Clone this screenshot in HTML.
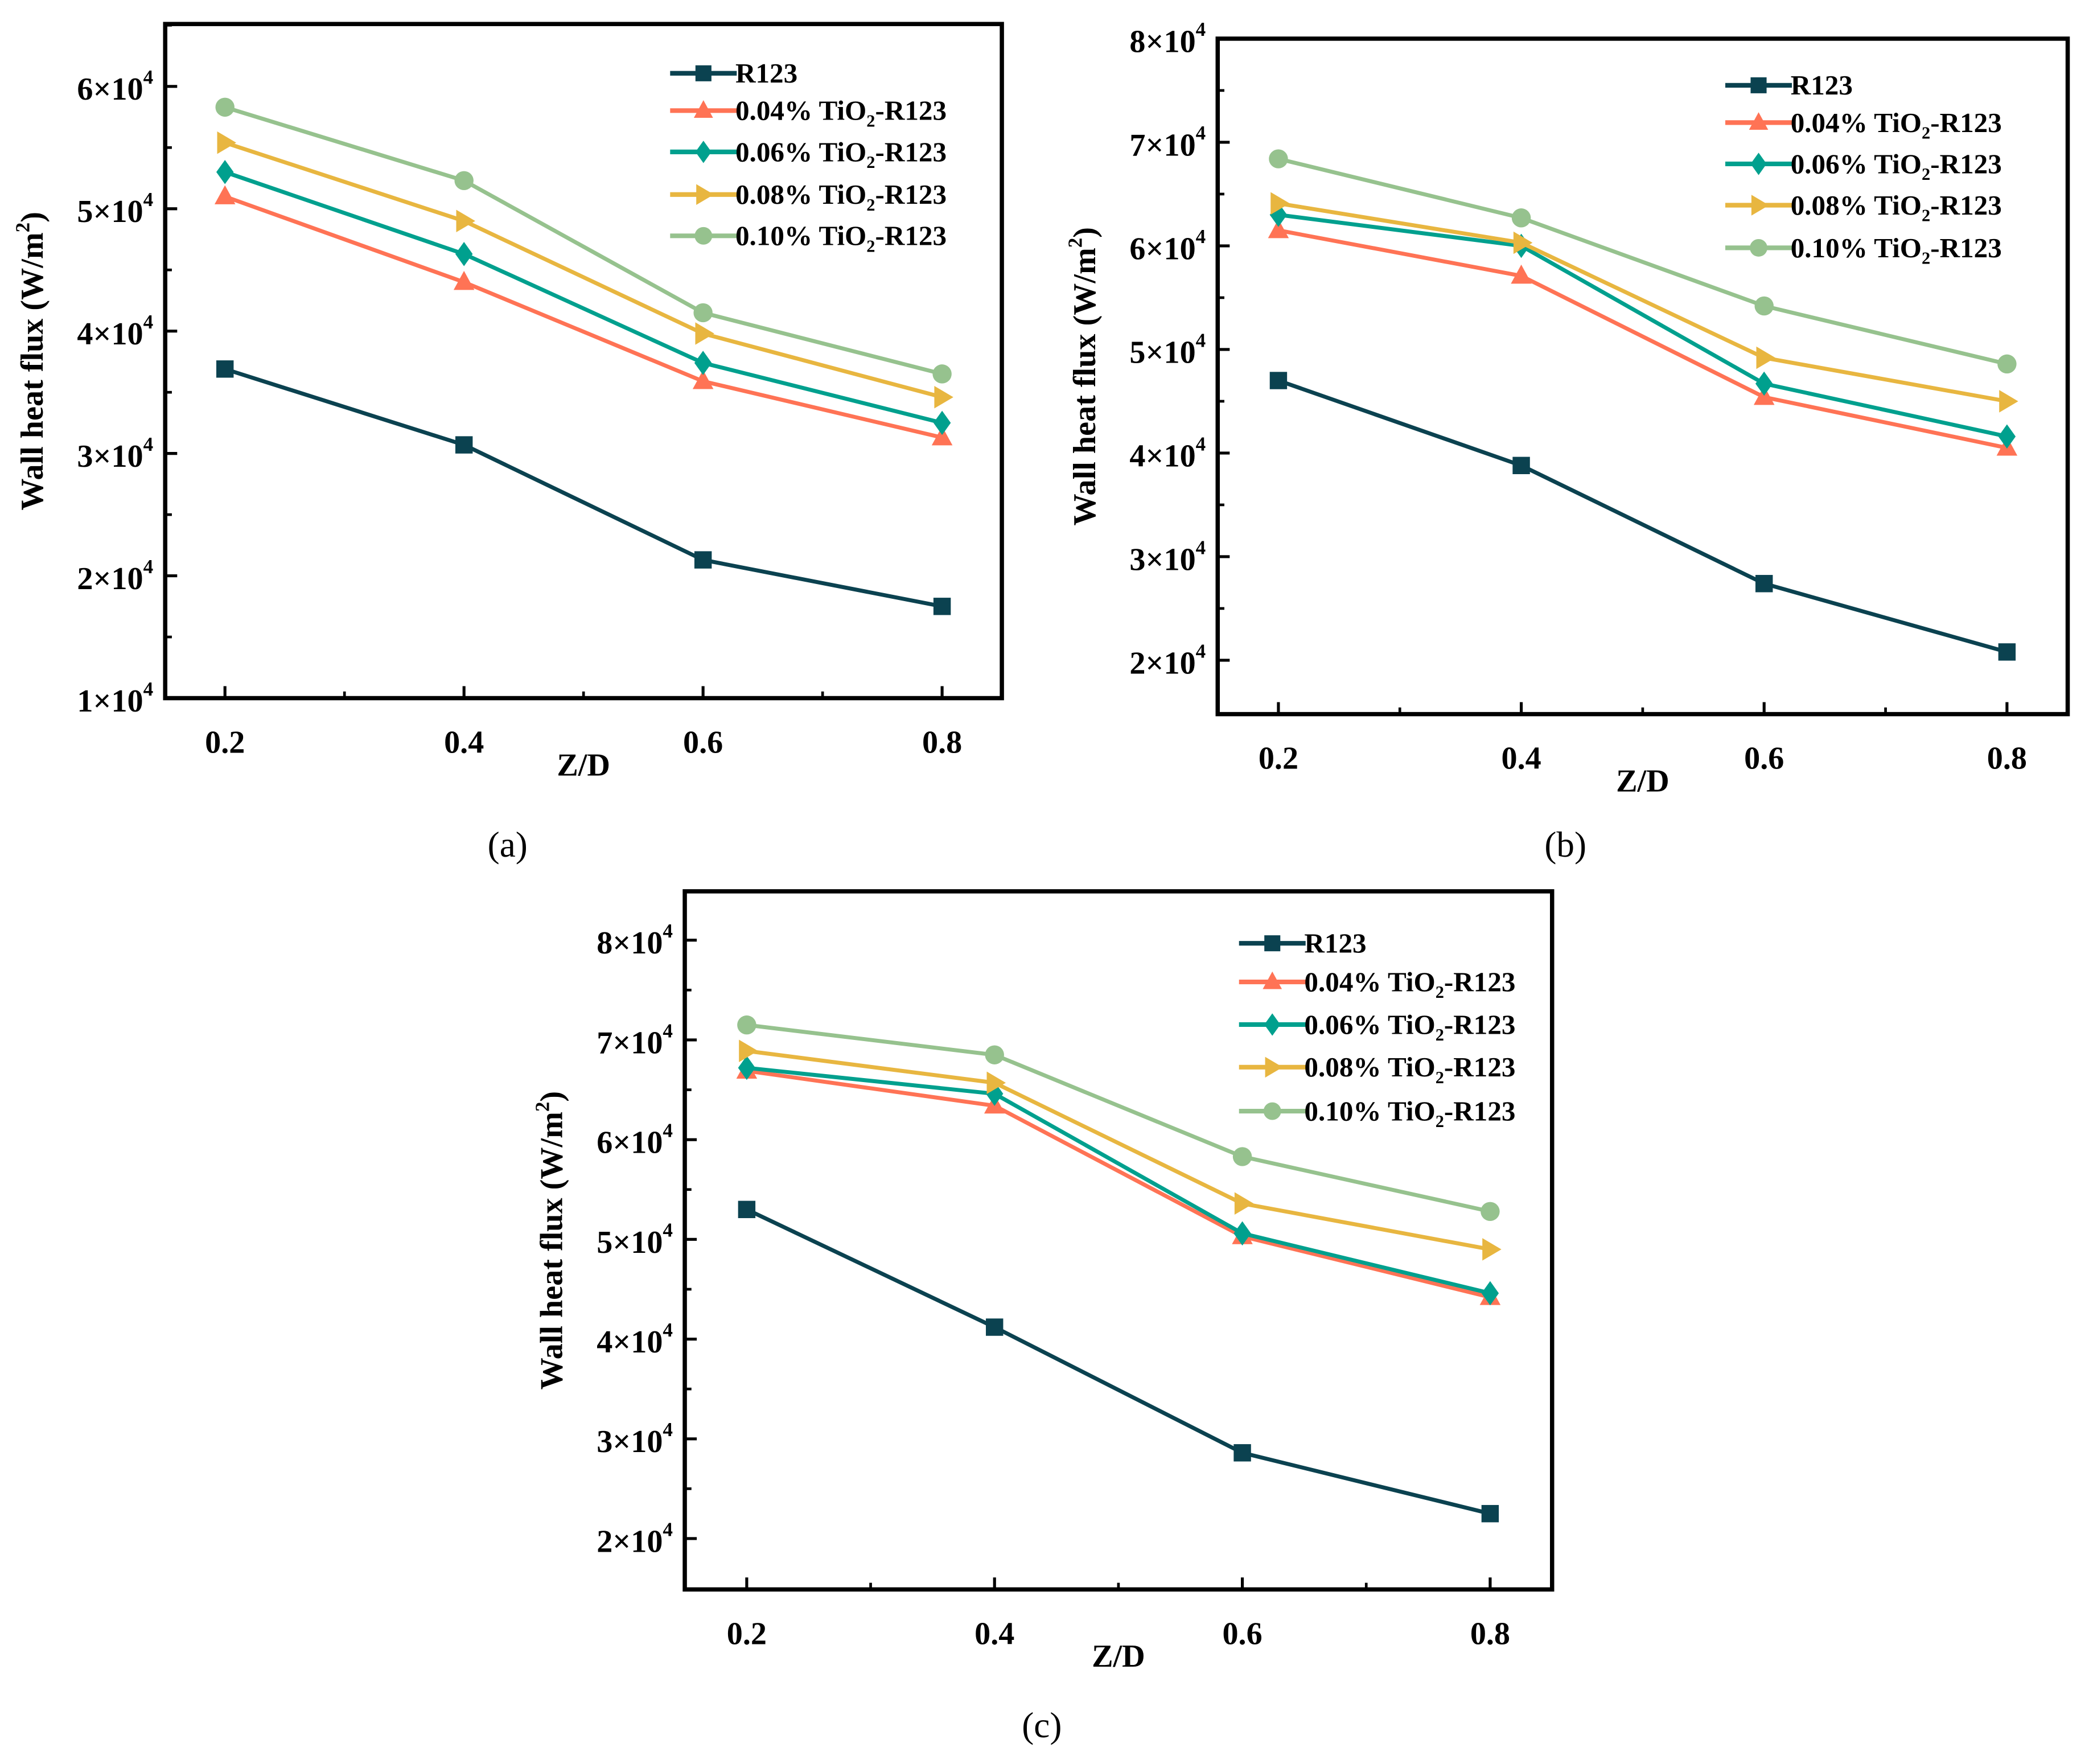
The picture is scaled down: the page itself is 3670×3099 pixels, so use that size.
<!DOCTYPE html>
<html><head><meta charset="utf-8"><style>
html,body{margin:0;padding:0;background:#fff}
svg{display:block}
text{font-family:"Liberation Serif",serif}
</style></head><body>
<svg id="fig" width="3670" height="3099" viewBox="0 0 1568 1324" xmlns="http://www.w3.org/2000/svg"></svg>
<script>
// x categories (Z/D)
const zd = [0.2, 0.4, 0.6, 0.8];
const seriesNames = ["R123", "0.04%", "0.06%", "0.08%", "0.10%"];
// panel (a) values, units of 1e4 W/m2
const aR123 = [3.69, 3.07, 2.13, 1.75];
const a004 = [5.10, 4.40, 3.59, 3.13];
const a006 = [5.30, 4.63, 3.74, 3.25];
const a008 = [5.54, 4.90, 3.98, 3.46];
const a010 = [5.83, 5.23, 4.15, 3.65];
// panel (b)
const bR123 = [4.70, 3.88, 2.74, 2.08];
const b004 = [6.15, 5.71, 4.54, 4.05];
const b006 = [6.30, 6.00, 4.67, 4.16];
const b008 = [6.41, 6.03, 4.92, 4.50];
const b010 = [6.84, 6.27, 5.42, 4.86];
// panel (c)
const cR123 = [5.30, 4.12, 2.86, 2.25];
const c004 = [6.69, 6.34, 5.03, 4.42];
const c006 = [6.72, 6.46, 5.06, 4.46];
const c008 = [6.89, 6.57, 5.36, 4.90];
const c010 = [7.15, 6.85, 5.83, 5.28];
// tick labels
const xTicks = [0.2, 0.4, 0.6, 0.8];
const aYTicks = [1, 2, 3, 4, 5, 6];
const bYTicks = [2, 3, 4, 5, 6, 7, 8];
const cYTicks = [2, 3, 4, 5, 6, 7, 8];

const NS = "http://www.w3.org/2000/svg";
const svg = document.getElementById("fig");
const colors = ["#0b4250", "#ff7355", "#00a08e", "#e8b640", "#96c28e"];
const markers = ["square", "tri", "diamond", "right", "circle"];

function el(tag, attrs, parent) {
  const e = document.createElementNS(NS, tag);
  for (const k in attrs) e.setAttribute(k, attrs[k]);
  (parent || svg).appendChild(e);
  return e;
}
function marker(g, type, x, y, c, s) {
  let m;
  if (type === "square") m = el("rect", {x: x - s, y: y - s, width: 2 * s, height: 2 * s, fill: c}, g);
  else if (type === "circle") m = el("circle", {cx: x, cy: y, r: s * 1.1, fill: c}, g);
  else if (type === "tri") m = el("polygon", {points: `${x},${y - s * 1.3} ${x + s * 1.2},${y + s * 0.9} ${x - s * 1.2},${y + s * 0.9}`, fill: c}, g);
  else if (type === "diamond") m = el("polygon", {points: `${x},${y - s * 1.4} ${x + s},${y} ${x},${y + s * 1.4} ${x - s},${y}`, fill: c}, g);
  else m = el("polygon", {points: `${x - s * 0.9},${y - s * 1.3} ${x + s * 1.3},${y} ${x - s * 0.9},${y + s * 1.3}`, fill: c}, g);
  return m;
}

function panel(cfg) {
  const g = el("g", {});
  
  
  const {L, R, T, B, ymin, ymax} = cfg;
  const xmin = 0.15, xmax = 0.85;
  const sx = v => L + (v - xmin) / (xmax - xmin) * (R - L);
  const sy = v => B - (v - ymin) / (ymax - ymin) * (B - T);

  cfg.yTicks.forEach((t, i) => {
    const y = sy(t);
    const tk = el("line", {x1: L, x2: L + 9, y1: y, y2: y, stroke: "#000", "stroke-width": 2.2}, g);
    
    
    const tx = el("text", {x: L - 9, y: y + 10, "text-anchor": "end", "font-size": 24, "font-weight": "bold"}, g);
    
    
    tx.innerHTML = t + "×10<tspan font-size='15' dy='-12'>4</tspan>";
    const h = t + 0.5;
    if (h < ymax) {
      const mt = el("line", {x1: L, x2: L + 5, y1: sy(h), y2: sy(h), stroke: "#000", "stroke-width": 2}, g);
      
      
    }
  });
  xTicks.forEach(t => {
    const x = sx(t);
    const tk = el("line", {x1: x, x2: x, y1: B, y2: B - 9, stroke: "#000", "stroke-width": 2.2}, g);
    
    
    const tx = el("text", {x: x, y: B + 41, "text-anchor": "middle", "font-size": 24, "font-weight": "bold"}, g);
    
    
    tx.textContent = t.toFixed(1);
    if (t < 0.8) {
      const mt = el("line", {x1: sx(t + 0.1), x2: sx(t + 0.1), y1: B, y2: B - 5, stroke: "#000", "stroke-width": 2}, g);
      
      
    }
  });
  cfg.series.forEach((vals, si) => {
    const sg = el("g", {}, g);
    
    
    const pts = vals.map((v, i) => sx(zd[i]) + "," + sy(v)).join(" ");
    const pl = el("polyline", {points: pts, fill: "none", stroke: colors[si], "stroke-width": 3, "stroke-linejoin": "round"}, sg);
    
    
    vals.forEach((v, i) => {
      const m = marker(sg, markers[si], sx(zd[i]), sy(v), colors[si], 6.5);
      
      
    });
  });
  const fr = el("rect", {x: L, y: T, width: R - L, height: B - T, fill: "none", stroke: "#000", "stroke-width": 3.2}, g);
  
  
  const lg = el("g", {}, g);
  
  
  cfg.legY.forEach((y, si) => {
    const ent = el("g", {}, lg);
    
    
    el("line", {x1: cfg.legX, x2: cfg.legX + 50, y1: y, y2: y, stroke: colors[si], "stroke-width": 3.5}, ent);
    marker(ent, markers[si], cfg.legX + 25, y, colors[si], 6);
    const tx = el("text", {x: cfg.legX + 49, y: y + 7, "font-size": 21, "font-weight": "bold"}, ent);
    if (si === 0) tx.textContent = "R123";
    else tx.innerHTML = seriesNames[si] + " TiO<tspan font-size='13' dy='5'>2</tspan><tspan dy='-5'>-R123</tspan>";
  });
  const yt = el("text", {x: 0, y: 0, transform: `translate(${L - 92},${(T + B) / 2}) rotate(-90)`, "text-anchor": "middle", "font-size": 24, "font-weight": "bold"}, g);
  
  
  yt.innerHTML = "Wall heat flux (W/m<tspan font-size='15' dy='-10'>2</tspan><tspan dy='10'>)</tspan>";
  const xt = el("text", {x: (L + R) / 2, y: B + 58, "text-anchor": "middle", "font-size": 24, "font-weight": "bold"}, g);
  
  
  xt.textContent = "Z/D";
  const cap = el("text", {x: cfg.capX, y: cfg.capY, "text-anchor": "middle", "font-size": 27}, g);
  
  
  cap.textContent = "(" + cfg.id + ")";
}

panel({id: "a", L: 124, R: 752, T: 18, B: 524, ymin: 1, ymax: 6.51, yTicks: aYTicks,
  series: [aR123, a004, a006, a008, a010], legX: 503, legY: [55, 83, 114, 146, 177], capX: 381, capY: 643});
panel({id: "b", L: 914, R: 1552, T: 29, B: 536, ymin: 1.48, ymax: 8.0, yTicks: bYTicks,
  series: [bR123, b004, b006, b008, b010], legX: 1295, legY: [64, 92, 123, 154, 186], capX: 1175, capY: 643});
panel({id: "c", L: 514, R: 1165, T: 669, B: 1193, ymin: 1.49, ymax: 8.49, yTicks: cYTicks,
  series: [cR123, c004, c006, c008, c010], legX: 930, legY: [708, 737, 769, 801, 834], capX: 782, capY: 1304});
</script>
</body></html>
